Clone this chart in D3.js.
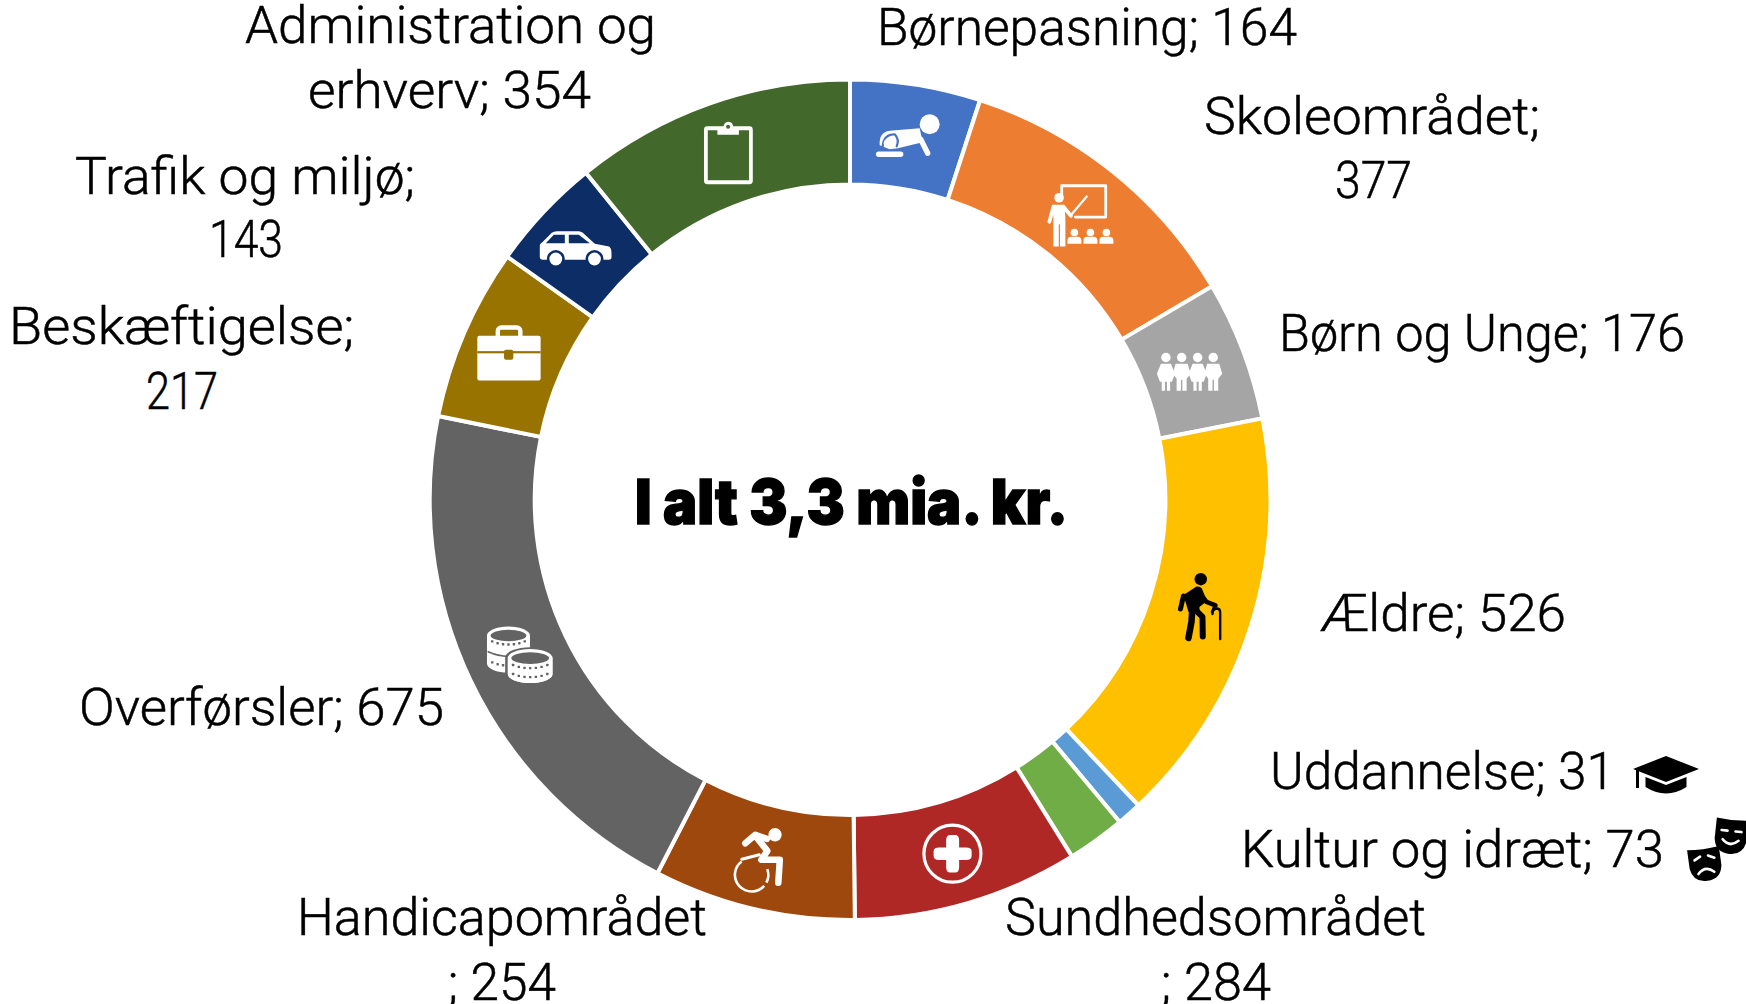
<!DOCTYPE html>
<html><head><meta charset="utf-8">
<script src="https://cdnjs.cloudflare.com/ajax/libs/d3/7.8.5/d3.min.js"></script>
<style>html,body{margin:0;padding:0;background:#fff;overflow:hidden}svg{display:block}</style>
</head><body><svg id="c" width="1746" height="1004"></svg>
<script>
const categories=["Børnepasning","Skoleområdet","Børn og Unge","Ældre","Uddannelse","Kultur og idræt","Sundhedsområdet","Handicapområdet","Overførsler","Beskæftigelse","Trafik og miljø","Administration og erhverv"];
const values=[164,377,176,526,31,73,284,254,675,217,143,354];
const colors=["#4472C4","#ED7D31","#A5A5A5","#FFC000","#5B9BD5","#70AD47","#B02826","#9E480E","#636363","#997300","#0D2D66","#43682B"];
const icons=["baby","teacher","children","elder",null,null,"cross","wheelchair","coins","briefcase","car","clipboard"];
const centerTitle="I alt 3,3 mia. kr.";
// text, left, right, baseline
const labelLines=[
 ["Administration og",245,656,42.5],["erhverv; 354",308,591,107.5],
 ["Børnepasning; 164",877,1297,45],
 ["Skoleområdet;",1204,1540,134],["377",1335,1412,197.5],
 ["Børn og Unge; 176",1279,1685,350.5],
 ["Ældre; 526",1320,1566,630.5],
 ["Uddannelse; 31",1270,1615,788.5],
 ["Kultur og idræt; 73",1241,1664,866.5],
 ["Sundhedsområdet",1005,1426,935],["; 284",1161,1271,999.5],
 ["Handicapområdet",297,707,935],["; 254",448,556,999.5],
 ["Overførsler; 675",79,444,725],
 ["Beskæftigelse;",9,354,344],["217",146,218,408.5],
 ["Trafik og miljø;",75,415,194],["143",209,283,257]
];
const W="#fff";
const svg=d3.select("#c");
const cx=850,cy=499.7;
const ring=svg.append("g").attr("transform",`translate(${cx},${cy})`);
const pie=d3.pie().sort(null).startAngle(0).endAngle(2*Math.PI);
const arc=d3.arc().innerRadius(315.3).outerRadius(420.3);
const mid=d3.arc().innerRadius(368).outerRadius(368);
const arcs=pie(values);
ring.selectAll("path.s").data(arcs).join("path").attr("class","s")
 .attr("d",arc).attr("fill",(d,i)=>colors[i]).attr("stroke",W).attr("stroke-width",4);

function P(g,d,a){const e=g.append("path").attr("d",d);for(const k in a)e.attr(k,a[k]);return e;}
function L(g,d,w,col){return P(g,d,{fill:"none",stroke:col,"stroke-width":w,"stroke-linecap":"round","stroke-linejoin":"round"});}
function C(g,x,y,r,col){return g.append("circle").attr("cx",x).attr("cy",y).attr("r",r).attr("fill",col);}
function R(g,x,y,w,h,rx,col){return g.append("rect").attr("x",x).attr("y",y).attr("width",w).attr("height",h).attr("rx",rx).attr("fill",col);}
const draw={
 clipboard(g,bg){
  g.append("rect").attr("x",-21.5).attr("y",-24.5).attr("width",45).attr("height",54).attr("rx",1.5).attr("fill","none").attr("stroke",W).attr("stroke-width",3.8);
  P(g,"M-10,-18V-24H-4Q-4,-31 1,-31Q6,-31 6,-24H11.5V-18Z",{fill:W});
  C(g,0.7,-26,2,bg);
 },
 baby(g,bg){
  C(g,22,-12,10,W);
  P(g,"M-28,9Q-29,-4 -18,-5.5L12,-8L15,6L-10,12L-18,13Z",{fill:W});
  L(g,"M13,3L20,17",5.4,W);
  L(g,"M-25,10Q-24,-2 -13,-2Q-8,3 -11,10",2.2,bg);
  C(g,-19,7,5,W);
  L(g,"M-29,18H-7",5.4,W);
 },
 teacher(g){
  L(g,"M-18.7,-17V-27H25.3V4.3H-5",2.8,W);
  L(g,"M6.3,-16.3L-10,3",2.2,W);
  C(g,-21.3,-15,4.8,W);
  P(g,"M-28,-8H-16L-15,5V33.7H-27V5Z",{fill:W});
  L(g,"M-27,-6L-31,9",3.8,W);
  L(g,"M-17,-6L-9.5,3",3.8,W);
  L(g,"M-21,12V34",1.2,"#ED7D31");
  for(const x of [-6,10,26]){C(g,x,19.7,3.8,W);P(g,`M${x-7},31V28Q${x-7},24 ${x-3},24H${x+3}Q${x+7},24 ${x+7},28V31Z`,{fill:W});}
 },
 children(g){
  [-28,-12.3,3.7,19.3].forEach((x,i)=>{
   C(g,x,-11.3,4.7,W);
   if(i%2==0){
    P(g,`M${x-5},-5H${x+5}L${x+9},5L${x+6},13H${x-6}L${x-9},5Z`,{fill:W});
    R(g,x-4.2,12,3.2,10,0,W);R(g,x+1,12,3.2,10,0,W);
   } else {
    P(g,`M${x-6},-5H${x+6}L${x+9},5L${x+5},10V22H${x+.7}V11H${x-.7}V22H${x-5}V10L${x-9},5Z`,{fill:W});
   }
  });
 },
 elder(g){
  const K="#000";
  C(g,0.3,-32.7,6.2,K);
  P(g,"M-17,-17L-4,-25.5Q1,-26 2,-22L6.5,-11L-1,-5V0H-12Z",{fill:K});
  L(g,"M-17,-16L-20,-3",5,K);
  L(g,"M3,-14L6,-10L15,-6.5",4.5,K);
  L(g,"M14,-6L11.5,0",2.5,K);
  L(g,"M-8,-5L-9,10L-12,26",6.5,K);
  L(g,"M-5,-2L2,5L2.3,24.5",6,K);
  L(g,"M12,2Q12,-3 16,-3.5Q19.7,-3.5 19.7,0V27",2.4,K);
 },
 cross(g,bg){
  g.append("circle").attr("cx",-0.7).attr("cy",0.7).attr("r",28.5).attr("fill","none").attr("stroke",W).attr("stroke-width",3.2);
  P(g,"M-7,-12.5Q-7,-18 -3,-18H2Q6,-18 6,-12.5V-5.5H13Q18.5,-5.5 18.5,-2V3Q18.5,7 13,7H6V14Q6,19.5 2,19.5H-3Q-7,19.5 -7,14V7H-14Q-19.5,7 -19.5,3V-2Q-19.5,-5.5 -14,-5.5H-7Z",{fill:W});
 },
 wheelchair(g){
  C(g,9.7,-23,6.7,W);
  L(g,"M-20,-14.5L-10,-23L1.5,-19",6.5,W);
  L(g,"M-10,-22L2,-7L-4,2L14.5,2L13,25",6.5,W);
  L(g,"M-23.5,1.5L-6,-3",3,W);
  const wheel=d3.arc().innerRadius(15.4).outerRadius(18);
  g.append("path").attr("d",wheel({startAngle:2.29,endAngle:5.64})).attr("transform","translate(-13.7,17)").attr("fill",W);
  g.append("path").attr("d",wheel({startAngle:1.22,endAngle:2.06})).attr("transform","translate(-13.7,17)").attr("fill",W);
 },
 coins(g,bg){
  function coin(x,y,h,rx,ry,rows){
   P(g,`M${x-rx},${y}V${y+h}A${rx},${ry} 0 0 0 ${x+rx},${y+h}V${y}A${rx},${ry} 0 0 0 ${x-rx},${y}Z`,{fill:W});
   g.append("ellipse").attr("cx",x).attr("cy",y).attr("rx",rx-3.6).attr("ry",ry-3.2).attr("fill",bg);
   rows.forEach(ro=>{
    d3.range(-3,4).forEach(k=>{
     const dx=k*(rx-2)/3.6;
     const dy=ry*Math.sqrt(Math.max(0,1-(dx*dx)/(rx*rx)));
     R(g,x+dx-1.2,y+ro+dy-1.2,2.4,2.4,.4,bg);
    });
   });
  }
  coin(-9.7,-23.3,28,21.5,9,[0,21]);
  L(g,"M-30,-7Q-10,2 10,-7",1.6,bg);
  P(g,"M-11.5,-0.7V16A23.5,9.5 0 0 0 35.5,16V-0.7A23.5,9.5 0 0 0 -11.5,-0.7Z",{fill:W,stroke:bg,"stroke-width":3});
  coin(12,-0.7,16,22.5,9,[1,10]);
 },
 briefcase(g,bg){
  g.append("rect").attr("x",-14.5).attr("y",-26).attr("width",22.5).attr("height",14).attr("rx",3.5).attr("fill","none").attr("stroke",W).attr("stroke-width",4.4);
  R(g,-35,-17.7,63.3,44.7,2,W);
  R(g,-35,-2.3,63.3,2.2,0,bg);
  R(g,-8.3,-3.7,9.3,10,2,bg);
 },
 car(g,bg){
  P(g,"M-42,6V-2Q-42,-4 -39,-6L-30,-15Q-28,-16.5 -25,-16.5H-3Q-1,-16.5 1,-15L13,-4L26,-1.5Q29.7,-1 29.7,5V10Q29.7,12 27,12H-39Q-42,12 -42,9Z",{fill:W});
  P(g,"M-36,-4.5L-28,-13H-17V-4.5Z",{fill:bg});
  P(g,"M-13,-13H-3L8,-4.5H-13Z",{fill:bg});
  for(const x of [-26,12.7]){C(g,x,11.3,9,bg);C(g,x,11.3,6.4,W);}
 }
};
arcs.forEach((d,i)=>{
 if(!icons[i])return;
 const [x,y]=mid.centroid(d);
 const g=ring.append("g").attr("transform",`translate(${x},${y})`);
 draw[icons[i]](g,colors[i]);
});

const K="#000";
const cap=svg.append("g").attr("transform","translate(1666,774)");
P(cap,"M-33,-5L0,-18L33,-5L0,8Z",{fill:K});
P(cap,"M-20.5,3L0,11L20.5,3V13Q0,26 -20.5,13Z",{fill:K});
P(cap,"M-30,-4H-27V14H-30Z",{fill:K});
const mR=svg.append("g").attr("transform","translate(1731,836) rotate(6)");
P(mR,"M-16,-17Q0,-15 16,-17V4Q14,18 0,18Q-14,18 -16,4Z",{fill:K});
L(mR,"M-10,-5H-4M4,-5H10",2.6,W);
L(mR,"M-8,4Q0,12 8,4",2.6,W);
const mL=svg.append("g").attr("transform","translate(1705,863) rotate(-8)");
P(mL,"M-16,-15Q0,-13 16,-15V4Q14,18 0,18Q-14,18 -16,4Z",{fill:K});
L(mL,"M-10,-4L-4,-7M4,-7L10,-4",2.6,W);
L(mL,"M-8,10Q0,2 8,10",2.6,W);

const labels=svg.append("g").attr("font-family","Roboto, sans-serif").attr("font-weight",300).attr("font-size",52).attr("fill","#000").attr("stroke","#000").attr("stroke-width",0.5);
labels.selectAll("text").data(labelLines).join("text")
 .attr("x",d=>d[1]).attr("y",d=>d[3])
 .attr("textLength",d=>d[2]-d[1]).attr("lengthAdjust","spacingAndGlyphs")
 .text(d=>d[0]);

svg.append("text").attr("x",635).attr("y",524).attr("font-family","Inter, sans-serif").attr("font-weight",900)
 .attr("font-size",62).attr("stroke","#000").attr("stroke-width",1.4).attr("textLength",433).attr("lengthAdjust","spacingAndGlyphs").text(centerTitle);
</script></body></html>
